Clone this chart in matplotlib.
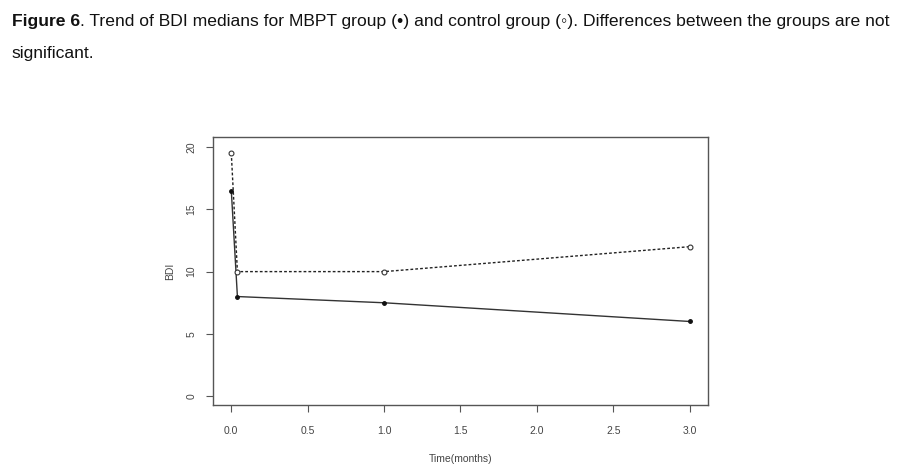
import matplotlib.pyplot as plt

# ---------------------------------------------------------------------------
# Data
# ---------------------------------------------------------------------------
time_months = [0.0, 0.04, 1.0, 3.0]
bdi_mbpt = [16.5, 8.0, 7.5, 6.0]
bdi_control = [19.5, 10.0, 10.0, 12.0]

x_ticks = [0.0, 0.5, 1.0, 1.5, 2.0, 2.5, 3.0]
y_ticks = [0, 5, 10, 15, 20]

caption_head = "Figure 6"
caption_rest = (". Trend of BDI medians for MBPT group (\u2022) and control group (\u25e6). "
                "Differences between the groups are not")
caption_line2 = "significant."

plt.rcParams["font.family"] = ["Liberation Sans", "DejaVu Sans"]

fig = plt.figure(figsize=(9.07, 4.76), dpi=100)

# caption, bold head followed by regular text
cap_size = 12.6
head = fig.text(0.013, 0.945, caption_head, fontsize=cap_size, fontweight="bold",
                color="#111111", va="baseline")
fig.canvas.draw()
bb = head.get_window_extent()
fig.text(bb.x1 / fig.bbox.width, 0.945, caption_rest, fontsize=cap_size,
         color="#111111", va="baseline")
fig.text(0.013, 0.878, caption_line2, fontsize=cap_size, color="#111111",
         va="baseline")

# plot area
ax = fig.add_axes([0.2348, 0.1492, 0.5458, 0.563])
ax.plot(time_months, bdi_mbpt, color="#333333", lw=1.0, ls="-",
        marker="o", ms=2.5, mfc="#111111", mec="#111111")
ax.plot(time_months, bdi_control, color="#222222", lw=1.0, ls=(0, (2, 1.5)),
        marker="o", ms=3.5, mfc="white", mec="#333333", mew=0.8)

ax.set_xlim(-0.12, 3.12)
ax.set_ylim(-0.7, 20.8)
ax.set_xticks(x_ticks)
ax.set_xticklabels([f"{v:.1f}" for v in x_ticks])
ax.set_yticks(y_ticks)
ax.set_yticklabels([str(v) for v in y_ticks], rotation=90, va="center")

ax.tick_params(axis="both", direction="out", length=5, width=0.8,
               colors="#555555", labelsize=7.5, labelcolor="#444444")
ax.tick_params(axis="x", pad=10)
ax.tick_params(axis="y", pad=7)
for s in ax.spines.values():
    s.set_color("#555555")
    s.set_linewidth(1.0)

ax.set_xlabel("Time(months)", fontsize=7.5, color="#444444", labelpad=13)
ax.set_ylabel("BDI", fontsize=7.5, color="#444444", labelpad=8)

fig.savefig("out.png", dpi=100)
